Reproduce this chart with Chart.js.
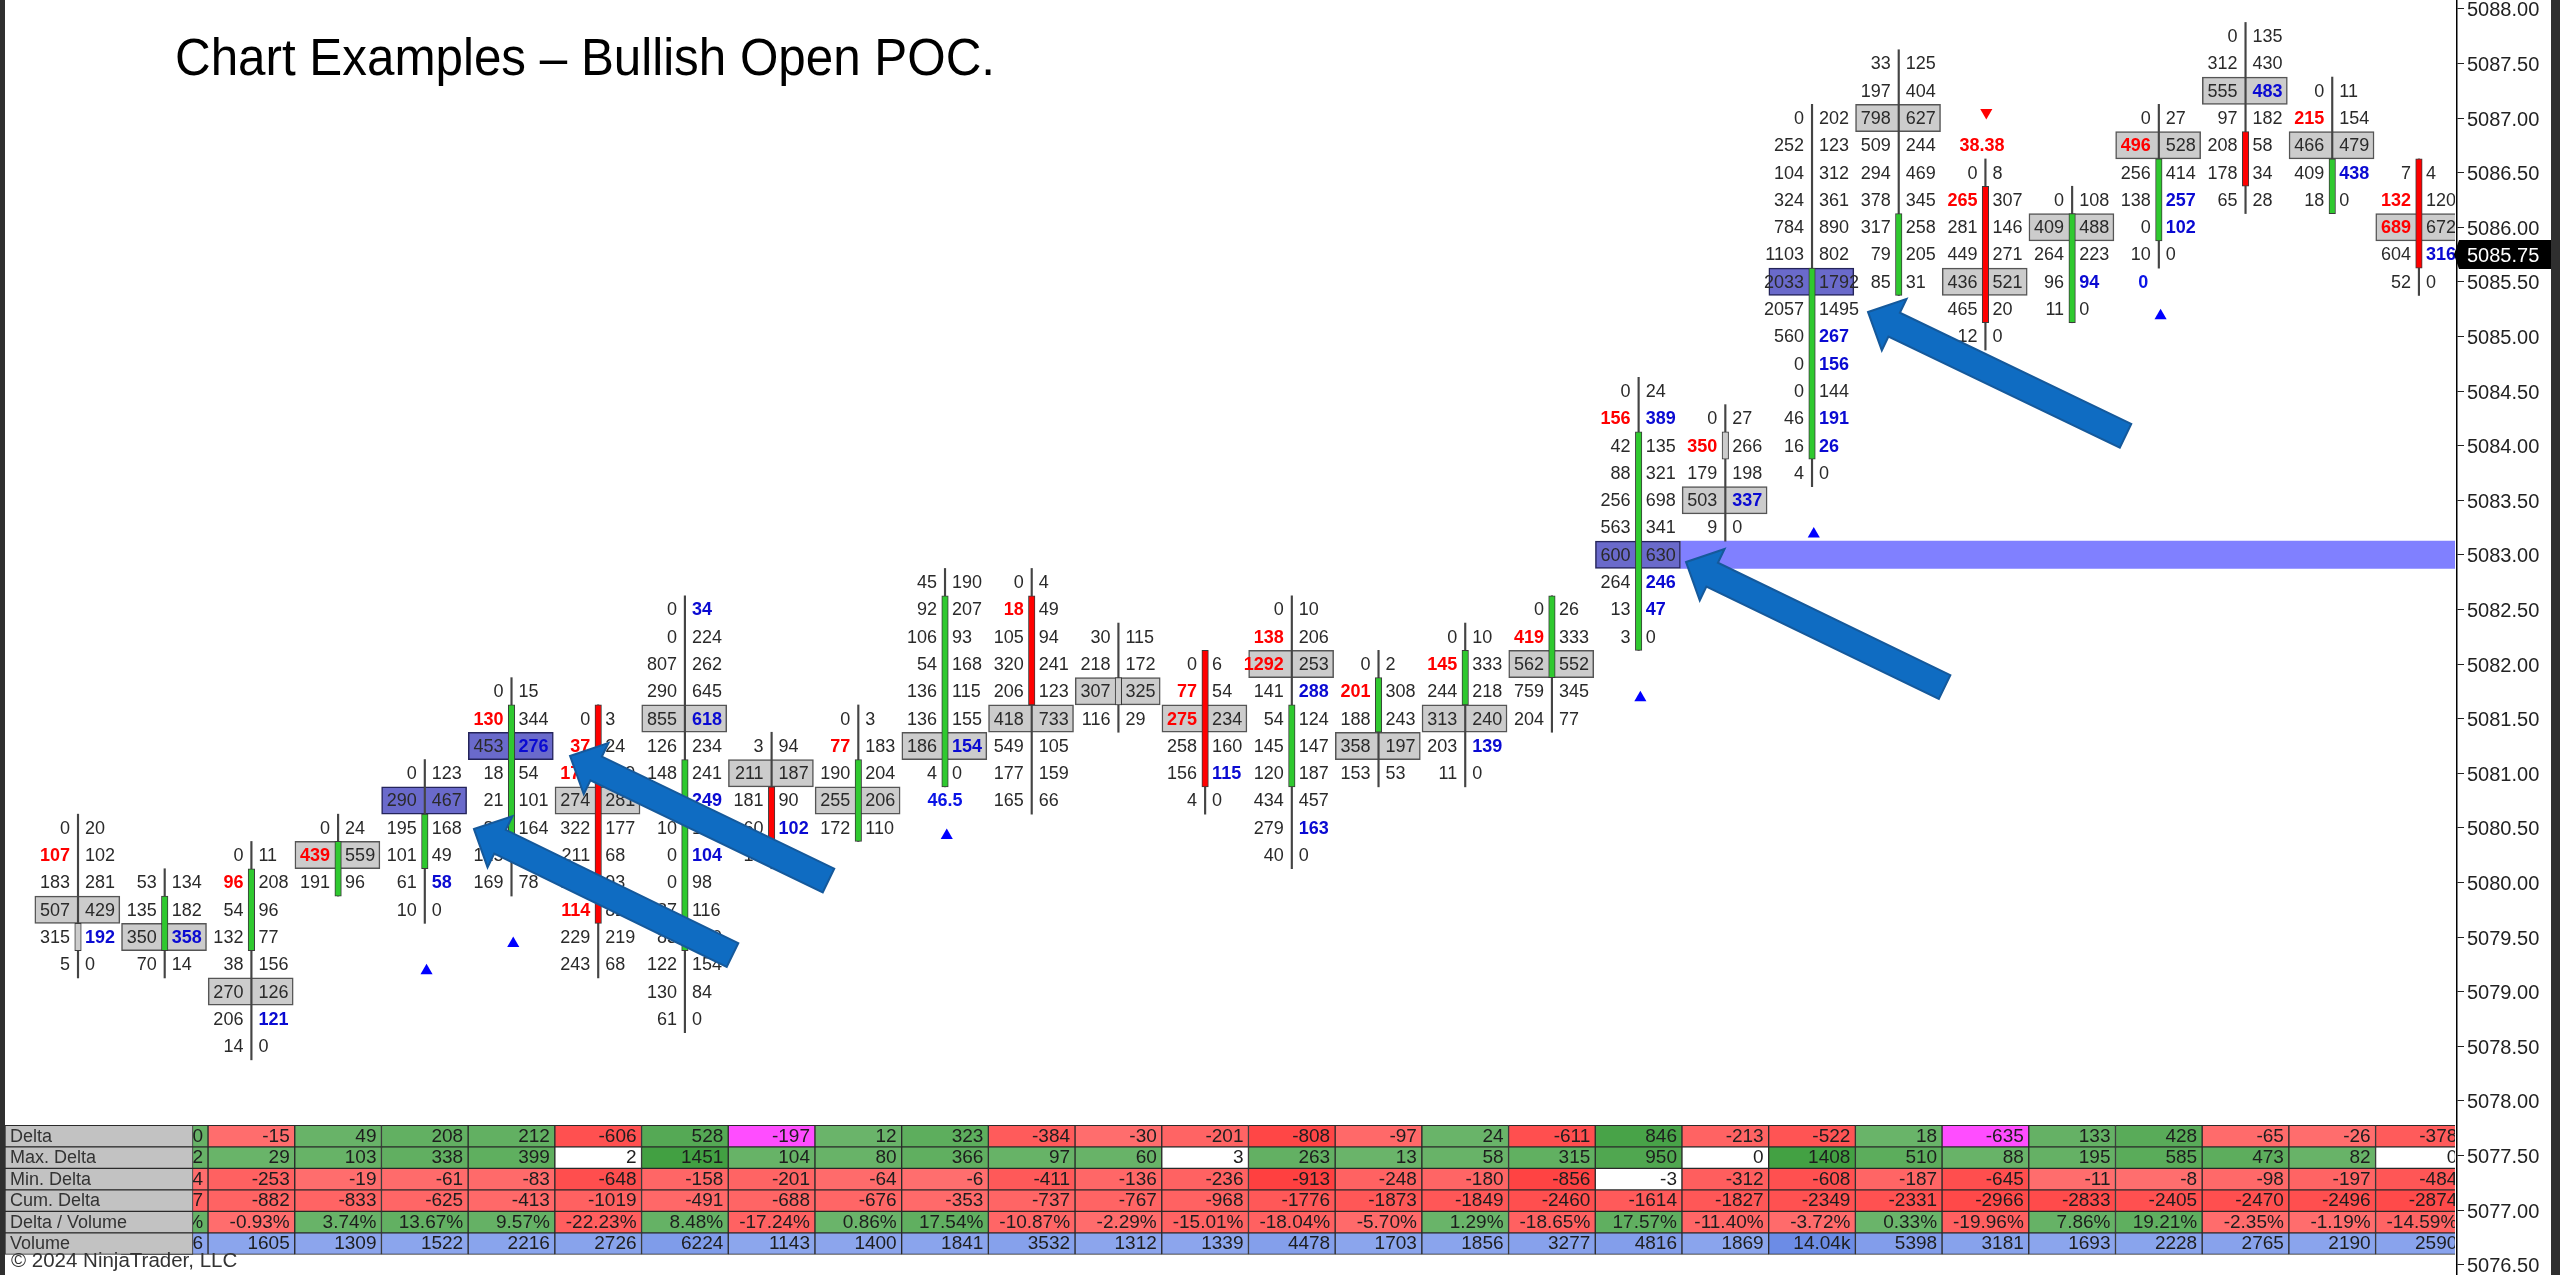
<!DOCTYPE html>
<html>
<head>
<meta charset="utf-8">
<title>Chart Examples – Bullish Open POC.</title>
<script src="https://cdn.jsdelivr.net/npm/chart.js@4"></script>
<style>
html,body{margin:0;padding:0;background:#fff;overflow:hidden}
canvas{display:block}
</style>
</head>
<body>
<canvas id="c" width="2560" height="1275"></canvas>
<script>
const titleText = 'Chart Examples – Bullish Open POC.';
const copyrightText = '© 2024 NinjaTrader, LLC';
const priceTicks = [5076.5,5077,5077.5,5078,5078.5,5079,5079.5,5080,5080.5,5081,5081.5,5082,5082.5,5083,5083.5,5084,5084.5,5085,5085.5,5086,5086.5,5087,5087.5,5088];
const lastPrice = 5085.75;

// footprint: price of the first row of each bar, then bid and ask per row (top to bottom)
const topPrice = [5080.5,5080,5080.25,5080.5,5081,5081.75,5081.5,5082.5,5081.25,5081.5,5082.75,5082.75,5082.25,5082,5082.5,5082,5082.25,5082.5,5084.5,5084.25,5087,5087.5,5086.5,5086.25,5087,5087.75,5087.25,5086.5];
const bids = [
 [0,107,183,507,315,5],[53,135,350,70],[0,96,54,132,38,270,206,14],[0,439,191],[0,290,195,101,61,10],
 [0,130,453,18,21,89,125,169],[0,37,170,274,322,211,143,114,229,243],[0,0,807,290,855,126,148,96,10,0,0,87,83,122,130,61],
 [3,211,181,60,14],[0,77,190,255,172],[45,92,106,54,136,136,186,4],[0,18,105,320,206,418,549,177,165],[30,218,307,116],
 [0,77,275,258,156,4],[0,138,1292,141,54,145,120,434,279,40],[0,201,188,358,153],[0,145,244,313,203,11],[0,419,562,759,204],
 [0,156,42,88,256,563,600,264,13,3],[0,350,179,503,9],[0,252,104,324,784,1103,2033,2057,560,0,0,46,16,4],
 [33,197,798,509,294,378,317,79,85],[0,265,281,449,436,465,12],[0,409,264,96,11],[0,496,256,138,0,10],[0,312,555,97,208,178,65],
 [0,215,466,409,18],[7,132,689,604,52]
];
const asks = [
 [20,102,281,429,192,0],[134,182,358,14],[11,208,96,77,156,126,121,0],[24,559,96],[123,467,168,49,58,0],
 [15,344,276,54,101,164,116,78],[3,24,129,281,177,68,93,82,219,68],[34,224,262,645,618,234,241,249,177,104,98,116,120,154,84,0],
 [94,187,90,102,0],[3,183,204,206,110],[190,207,93,168,115,155,154,0],[4,49,94,241,123,733,105,159,66],[115,172,325,29],
 [6,54,234,160,115,0],[10,206,253,288,124,147,187,457,163,0],[2,308,243,197,53],[10,333,218,240,139,0],[26,333,552,345,77],
 [24,389,135,321,698,341,630,246,47,0],[27,266,198,337,0],[202,123,312,361,890,802,1792,1495,267,156,144,191,26,0],
 [125,404,627,244,469,345,258,205,31],[8,307,146,271,521,20,0],[108,488,223,94,0],[27,528,414,257,102,0],[135,430,483,182,58,34,28],
 [11,154,479,438,0],[4,120,672,316,0]
];
const redBidRows = [[1],[],[1],[1],[],[1],[1,2,7],[],[],[1],[],[1],[],[1,2],[1,2],[1],[1],[1],[1],[1],[],[],[1],[],[1],[],[1],[1,2]];
const blueAskRows = [[4],[2],[6],[],[4],[2],[],[0,4,7,9],[3],[],[6],[],[],[4],[3,8],[],[4],[],[1,7,8],[3],[8,9,11,12],[],[],[3],[3,4],[2],[3],[3]];
const pocRow = [3,2,5,1,1,2,3,4,1,3,6,5,2,2,2,3,3,2,6,3,6,2,4,1,1,2,2,2];
const openPocBars = [4,5,18,20];
const bodyTop = [5079.5,5079.75,5080,5080.25,5080.5,5081.5,5081.5,5081,5080.75,5081,5082.5,5082.5,5081.75,5082,5081.5,5081.75,5082,5082.5,5084,5084,5085.5,5086,5086.25,5086,5086.5,5086.75,5086.5,5086.5];
const bodyBottom = [5079.5,5079.5,5079.5,5080,5080.25,5080.5,5079.75,5079.5,5080.5,5080.5,5081,5081.75,5081.75,5081,5081,5081.5,5081.75,5082,5082.25,5084,5084,5085.5,5085.25,5085.25,5086,5086.5,5086.25,5085.75];
const bodyKind = ['n','g','g','g','g','g','r','g','r','g','g','r','n','r','g','g','g','g','g','n','g','g','r','g','g','r','g','r'];

// highlighted open POC level
const bandPrice = 5083;
// signal triangles and their text
const upMarkerBars = [4.02,5.02,10.02,18.02,20.02,24.02];
const upMarkerPrices = [5079.19,5079.44,5080.43,5081.69,5083.19,5085.19];
const downMarkerBars = [22.01];
const downMarkerPrices = [5087.05];
const signalBars = [10,21.96,23.82];
const signalPrices = [5080.75,5086.75,5085.5];
const signalTexts = ['46.5','38.38','0'];
const signalColors = ['#0a14e6','#ff0000','#0a14e6'];

// block arrows, [bar position, price]
const arrowTips = [[4.567,5080.489],[5.675,5081.158],[18.547,5082.934],[20.646,5085.223]];
const arrowTails = [[7.549,5079.335],[8.656,5080.017],[21.529,5081.789],[23.616,5084.09]];

// table below the chart, columns for bars 1..27
const rowLabels = ['Delta','Max. Delta','Min. Delta','Cum. Delta','Delta / Volume','Volume'];
const deltaRow = [80,-15,49,208,212,-606,528,-197,12,323,-384,-30,-201,-808,-97,24,-611,846,-213,-522,18,-635,133,428,-65,-26,-378];
const maxDeltaRow = [112,29,103,338,399,2,1451,104,80,366,97,60,3,263,13,58,315,950,0,1408,510,88,195,585,473,82,0];
const minDeltaRow = [-14,-253,-19,-61,-83,-648,-158,-201,-64,-6,-411,-136,-236,-913,-248,-180,-856,-3,-312,-608,-187,-645,-11,-8,-98,-197,-484];
const cumDeltaRow = [-867,-882,-833,-625,-413,-1019,-491,-688,-676,-353,-737,-767,-968,-1776,-1873,-1849,-2460,-1614,-1827,-2349,-2331,-2966,-2833,-2405,-2470,-2496,-2874];
const deltaVolumeRow = [6.17,-0.93,3.74,13.67,9.57,-22.23,8.48,-17.24,0.86,17.54,-10.87,-2.29,-15.01,-18.04,-5.70,1.29,-18.65,17.57,-11.40,-3.72,0.33,-19.96,7.86,19.21,-2.35,-1.19,-14.59];
const volumeRow = [1296,1605,1309,1522,2216,2726,6224,1143,1400,1841,3532,1312,1339,4478,1703,1856,3277,4816,1869,14040,5398,3181,1693,2228,2765,2190,2590];
const magentaDeltaBars = [8,22];

/* ---- styling only below ---- */
const FONT = '"Liberation Sans", Arial, sans-serif';
const HALF_TICK = 0.125;
const colWidth = 86.7;
const rowsData = [deltaRow,maxDeltaRow,minDeltaRow,cumDeltaRow,deltaVolumeRow,volumeRow];
const rowScale = [1000,1451,1000,4000,70,0];
const labelColumnX = 0.242, labelColumnWidth = 188;
const noClipRight = {left:0,top:0,right:-2,bottom:0};

function cellColor(r, c, v) {
  if (r === 5) { const t = v/14040; return `rgb(${143-35*t},${168-28*t},${238-8*t})`; }
  if (r === 0 && magentaDeltaBars.includes(c+1)) return '#ff4dff';
  if (r !== 4 && Math.abs(v) < 5) return '#ffffff';
  const t = Math.min(1, Math.abs(v)/rowScale[r]);
  return v > 0 ? `rgb(${106-40*t},${180-20*t},${106-40*t})` : `rgb(255,${110-50*t},${110-50*t})`;
}
function cellText(r, v) {
  if (r === 4) return v.toFixed(2)+'%';
  if (r === 5 && v >= 10000) return (v/1000).toFixed(2)+'k';
  return String(v);
}
const wicks = topPrice.map((t,i)=>({x:i,y:[t-(bids[i].length-1)*0.25-HALF_TICK,t+HALF_TICK]}));
const bodies = bodyTop.map((t,i)=>({x:i,y:[bodyBottom[i]-HALF_TICK,t+HALF_TICK]}));
const pocs = pocRow.map((r,i)=>{const p=topPrice[i]-r*0.25;return {x:i-0.008,y:[p-HALF_TICK,p+HALF_TICK]};});
const bodyFill = {g:'#2fc92f',r:'#ff0000',n:'#cccccc'};

const datasets = [
  {type:'bar',label:'Open POC band',order:70,data:[{x:22.96,y:[bandPrice-HALF_TICK,bandPrice+HALF_TICK]}],backgroundColor:'#8080ff',barThickness:776,grouped:false,clip:noClipRight},
  {type:'bar',label:'POC',order:60,data:pocs,backgroundColor:pocRow.map((r,i)=>openPocBars.includes(i)?'#6a6acb':'#cccccc'),borderColor:pocRow.map((r,i)=>openPocBars.includes(i)?'#24245a':'#555555'),borderWidth:1.5,borderSkipped:false,barThickness:85,grouped:false,clip:noClipRight},
  {type:'bar',label:'Wick',order:50,data:wicks,backgroundColor:'#444444',barThickness:1.5,grouped:false,clip:noClipRight},
  {type:'bar',label:'Body',order:40,data:bodies,backgroundColor:bodyKind.map(k=>bodyFill[k]),borderColor:'#3a3a3a',borderWidth:1,borderSkipped:false,barThickness:6.5,grouped:false,clip:noClipRight},
  {type:'scatter',label:'Up signal',order:30,data:upMarkerBars.map((x,i)=>({x,y:upMarkerPrices[i]})),pointStyle:'triangle',pointRadius:7,pointBackgroundColor:'#0000ff',pointBorderWidth:0,showLine:false},
  {type:'scatter',label:'Down signal',order:30,data:downMarkerBars.map((x,i)=>({x,y:downMarkerPrices[i]})),pointStyle:'triangle',pointRotation:180,pointRadius:7,pointBackgroundColor:'#ff0000',pointBorderWidth:0,showLine:false},
];
rowsData.forEach((vals,r)=>{
  datasets.push({type:'bar',label:rowLabels[r],order:20,yAxisID:'rows',data:vals.map((v,c)=>({x:c+1,y:[r,r+1]})),
    backgroundColor:vals.map((v,c)=>cellColor(r,c,v)),borderColor:'#2a2a2a',borderWidth:1,borderSkipped:false,barThickness:colWidth,grouped:false,clip:noClipRight});
});
datasets.push({type:'bar',label:'Row labels',order:10,yAxisID:'rows',data:rowLabels.map((l,r)=>({x:labelColumnX,y:[r,r+1]})),
  backgroundColor:'#c2c2c2',borderColor:'#2a2a2a',borderWidth:1,borderSkipped:false,barThickness:labelColumnWidth,grouped:false,clip:noClipRight});

const footprintPlugin = {
  id:'footprint',
  beforeDraw(chart){
    const {ctx,width,height,chartArea:a}=chart;
    ctx.save();
    ctx.fillStyle='#ffffff';ctx.fillRect(0,0,width,height);
    ctx.fillStyle='#2f2f2f';ctx.fillRect(0,0,a.left,height);ctx.fillRect(a.right+94,0,width-a.right-94,height);
    ctx.restore();
  },
  afterDatasetsDraw(chart){
    const {ctx,chartArea:a,scales:{x,y,rows}}=chart;
    ctx.save();
    ctx.beginPath();ctx.rect(a.left,a.top,a.right-2-a.left,a.bottom-a.top);ctx.clip();
    ctx.textBaseline='middle';
    // bid / ask cells
    bids.forEach((col,i)=>{
      const cx=x.getPixelForValue(i);
      col.forEach((b,r)=>{
        const py=y.getPixelForValue(topPrice[i]-r*0.25)+1;
        const red=redBidRows[i].includes(r), blue=blueAskRows[i].includes(r);
        ctx.textAlign='right';
        ctx.font=(red?'bold ':'')+'18px '+FONT;ctx.fillStyle=red?'#ff0000':'#2a2a2a';
        ctx.fillText(String(b),cx-8,py);
        ctx.textAlign='left';
        ctx.font=(blue?'bold ':'')+'18px '+FONT;ctx.fillStyle=blue?'#0a0ad2':'#2a2a2a';
        ctx.fillText(String(asks[i][r]),cx+7,py);
      });
    });
    // signal values
    ctx.textAlign='center';ctx.font='bold 18px '+FONT;
    signalTexts.forEach((t,i)=>{
      ctx.fillStyle=signalColors[i];
      ctx.fillText(t,x.getPixelForValue(signalBars[i]),y.getPixelForValue(signalPrices[i])+1);
    });
    // block arrows
    const shaft=13.2, head=28.5, headLen=29;
    arrowTips.forEach((t,i)=>{
      const tx=x.getPixelForValue(t[0]),ty=y.getPixelForValue(t[1]);
      const ex=x.getPixelForValue(arrowTails[i][0]),ey=y.getPixelForValue(arrowTails[i][1]);
      const len=Math.hypot(ex-tx,ey-ty),ux=(ex-tx)/len,uy=(ey-ty)/len,nx=-uy,ny=ux;
      const nk=[tx+ux*headLen,ty+uy*headLen];
      ctx.beginPath();
      ctx.moveTo(tx,ty);
      ctx.lineTo(nk[0]-nx*head,nk[1]-ny*head);
      ctx.lineTo(nk[0]-nx*shaft,nk[1]-ny*shaft);
      ctx.lineTo(ex-nx*shaft,ey-ny*shaft);
      ctx.lineTo(ex+nx*shaft,ey+ny*shaft);
      ctx.lineTo(nk[0]+nx*shaft,nk[1]+ny*shaft);
      ctx.lineTo(nk[0]+nx*head,nk[1]+ny*head);
      ctx.closePath();
      ctx.fillStyle='#0f6cc2';ctx.fill();
      ctx.lineWidth=2;ctx.strokeStyle='#15599b';ctx.stroke();
    });
    ctx.restore();
    // table text
    const labelRight=x.getPixelForValue(labelColumnX)+labelColumnWidth/2;
    ctx.save();
    ctx.beginPath();ctx.rect(labelRight,a.top,a.right-2-labelRight,a.bottom-a.top);ctx.clip();
    ctx.textBaseline='middle';ctx.textAlign='right';ctx.font='19px '+FONT;ctx.fillStyle='#1e1e1e';
    rowsData.forEach((vals,r)=>{
      const py=rows.getPixelForValue(r+0.5)+0.5;
      vals.forEach((v,c)=>ctx.fillText(cellText(r,v),x.getPixelForValue(c+1)+colWidth/2-5,py));
    });
    ctx.restore();
    ctx.save();
    ctx.textBaseline='middle';ctx.textAlign='left';ctx.font='18px '+FONT;ctx.fillStyle='#333333';
    rowLabels.forEach((l,r)=>ctx.fillText(l,a.left+5,rows.getPixelForValue(r+0.5)+0.5));
    ctx.font='20.5px '+FONT;ctx.fillStyle='#333333';
    ctx.fillText(copyrightText,a.left+6,rows.getPixelForValue(6.35));
    // title
    ctx.font='51px '+FONT;ctx.fillStyle='#000000';ctx.textBaseline='alphabetic';
    ctx.fillText(titleText,175,75,820);
    ctx.restore();
  },
  afterDraw(chart){
    const {ctx,chartArea:a,scales:{y}}=chart;
    const py=y.getPixelForValue(lastPrice), xr=a.right+94;
    ctx.save();
    ctx.beginPath();
    ctx.moveTo(a.right-3,py);ctx.lineTo(a.right+2,py-14.5);ctx.lineTo(xr,py-14.5);ctx.lineTo(xr,py+14.5);ctx.lineTo(a.right+2,py+14.5);ctx.closePath();
    ctx.fillStyle='#000000';ctx.fill();
    ctx.font='20px '+FONT;ctx.fillStyle='#ffffff';ctx.textAlign='left';ctx.textBaseline='middle';
    ctx.fillText(lastPrice.toFixed(2),a.right+10,py+1.5);
    ctx.restore();
  }
};

new Chart(document.getElementById('c'),{
  type:'bar',
  data:{datasets},
  plugins:[footprintPlugin],
  options:{
    responsive:false,animation:false,devicePixelRatio:1,
    layout:{autoPadding:false,padding:{left:5,right:9,top:0,bottom:0}},
    plugins:{legend:{display:false},tooltip:{enabled:false},title:{display:false}},
    scales:{
      x:{type:'linear',display:false,offset:false,grid:{offset:false,display:false},min:-0.842,max:27.439},
      y:{type:'linear',position:'right',min:5076.4048,max:5088.0806,
        afterBuildTicks(s){s.ticks=priceTicks.map(v=>({value:v}));},
        afterFit(s){s.width=94;s.paddingTop=0;s.paddingBottom=0;},
        border:{display:true,color:'#000000',width:1.5},
        grid:{drawOnChartArea:false,drawTicks:true,tickLength:7,tickColor:'#222222',tickWidth:1},
        ticks:{autoSkip:false,padding:3,maxRotation:0,labelOffset:2,font:{family:'Liberation Sans',size:20},color:'#222222',callback:v=>Number(v).toFixed(2)}
      },
      rows:{type:'linear',display:false,reverse:true,min:-52.34,max:6.963}
    }
  }
});
</script>
</body>
</html>
